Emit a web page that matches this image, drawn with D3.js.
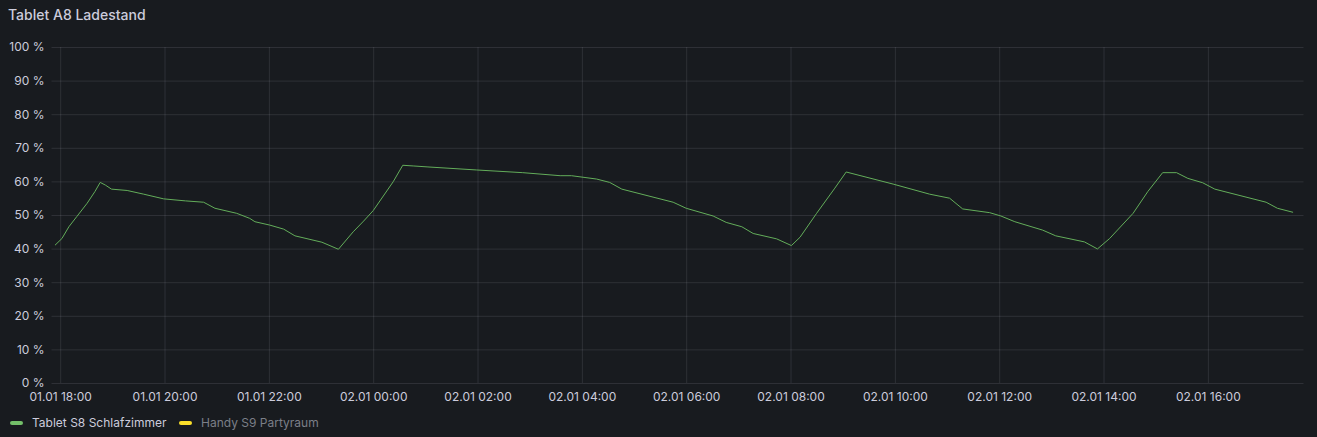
<!DOCTYPE html>
<html><head><meta charset="utf-8">
<script src="https://cdn.jsdelivr.net/npm/d3@7"></script>
<style>
html,body{margin:0;padding:0;background:#181b1f;}
svg{display:block;font-family:Inter,"Noto Sans",sans-serif;}
</style></head>
<body>
<svg id="c" width="1317" height="437"></svg>
<script>
const title = "Tablet A8 Ladestand";
const seriesNames = ["Tablet S8 Schlafzimmer", "Handy S9 Partyraum"];
const seriesColors = ["#73bf69", "#fade2a"];
const yTicks = [0,10,20,30,40,50,60,70,80,90,100];
const xTickTimes = ["2024-01-01T18:00","2024-01-01T20:00","2024-01-01T22:00","2024-01-02T00:00","2024-01-02T02:00","2024-01-02T04:00","2024-01-02T06:00","2024-01-02T08:00","2024-01-02T10:00","2024-01-02T12:00","2024-01-02T14:00","2024-01-02T16:00"];
const domainTimes = ["2024-01-01T17:50","2024-01-02T17:50"];
const times = ["2024-01-01T17:54","2024-01-01T18:02","2024-01-01T18:10","2024-01-01T18:19","2024-01-01T18:31","2024-01-01T18:40","2024-01-01T18:46","2024-01-01T18:52","2024-01-01T18:59","2024-01-01T19:17","2024-01-01T19:36","2024-01-01T19:59","2024-01-01T20:24","2024-01-01T20:45","2024-01-01T20:58","2024-01-01T21:23","2024-01-01T21:38","2024-01-01T21:44","2024-01-01T22:01","2024-01-01T22:17","2024-01-01T22:30","2024-01-01T23:01","2024-01-01T23:20","2024-01-01T23:37","2024-01-01T23:49","2024-01-02T00:00","2024-01-02T00:23","2024-01-02T00:34","2024-01-02T00:46","2024-01-02T01:03","2024-01-02T01:59","2024-01-02T02:52","2024-01-02T03:35","2024-01-02T03:48","2024-01-02T04:17","2024-01-02T04:32","2024-01-02T04:46","2024-01-02T05:45","2024-01-02T06:00","2024-01-02T06:31","2024-01-02T06:46","2024-01-02T07:04","2024-01-02T07:17","2024-01-02T07:44","2024-01-02T08:01","2024-01-02T08:11","2024-01-02T08:30","2024-01-02T08:51","2024-01-02T09:04","2024-01-02T09:58","2024-01-02T10:40","2024-01-02T11:03","2024-01-02T11:18","2024-01-02T11:49","2024-01-02T12:02","2024-01-02T12:18","2024-01-02T12:50","2024-01-02T13:05","2024-01-02T13:38","2024-01-02T13:53","2024-01-02T14:07","2024-01-02T14:34","2024-01-02T14:51","2024-01-02T15:08","2024-01-02T15:24","2024-01-02T15:37","2024-01-02T15:54","2024-01-02T16:08","2024-01-02T17:07","2024-01-02T17:20","2024-01-02T17:38"];
const values = [41,43,46.5,49.5,53.5,57,59.7,58.9,57.7,57.3,56.2,54.8,54.2,53.8,52,50.5,49,48,47,45.8,43.8,41.9,39.8,45,48.2,51.3,59.9,64.8,64.6,64.3,63.4,62.6,61.7,61.7,60.7,59.7,57.7,53.8,52,49.7,47.8,46.5,44.5,42.9,40.9,43.4,50.5,58,62.8,59.2,56.2,55,51.8,50.7,49.7,48,45.5,43.8,42,39.9,43,50.5,57,62.6,62.6,60.9,59.6,57.7,53.8,52,50.8];

const parse = d3.timeParse("%Y-%m-%dT%H:%M");
const data = times.map((t,i)=>({t:parse(t), v:values[i]}));

const svg = d3.select("#c");
const W = 1317, H = 437;
const m = {left:51.5, right:13.5, top:47, bottom:54};
const x = d3.scaleTime().domain(domainTimes.map(parse)).range([m.left, W - m.right]);
const y = d3.scaleLinear().domain([0,100]).range([H - m.bottom, m.top]);

svg.append("text").attr("x",8).attr("y",20).attr("fill","#ccccdc").attr("font-size",14).attr("font-weight",500).text(title);

const grid = "rgba(204,204,220,0.12)";
const yAxis = d3.axisLeft(y).tickValues(yTicks).tickFormat(d=>d+" %").tickSize(-(W-m.left-m.right)).tickPadding(7);
const gy = svg.append("g").attr("transform",`translate(${m.left},0)`).call(yAxis);
gy.select(".domain").remove();
gy.selectAll("line").attr("stroke",grid);
gy.selectAll("text").attr("fill","#ccccdc").attr("font-size",12).attr("font-family","Inter,sans-serif");

const xAxis = d3.axisBottom(x).tickValues(xTickTimes.map(parse)).tickFormat(d3.timeFormat("%d.%m %H:%M")).tickSize(-(H-m.top-m.bottom)).tickPadding(9);
const gx = svg.append("g").attr("transform",`translate(0,${H-m.bottom})`).call(xAxis);
gx.select(".domain").remove();
gx.selectAll("line").attr("stroke",grid);
gx.selectAll("text").attr("fill","#ccccdc").attr("font-size",12).attr("font-family","Inter,sans-serif");

const line = d3.line().x(d=>x(d.t)).y(d=>y(d.v));
svg.append("path").datum(data).attr("d",line).attr("fill","none").attr("stroke","#63ad5a").attr("stroke-width",1);

// legend
const lg = svg.append("g").attr("transform","translate(10,423)");
const items = [{name:seriesNames[0], color:seriesColors[0], text:"#ccccdc", x:0},{name:seriesNames[1], color:seriesColors[1], text:"#7b7f88", x:169}];
items.forEach(it=>{
  lg.append("rect").attr("x",it.x).attr("y",-2).attr("width",13).attr("height",4).attr("rx",2).attr("fill",it.color);
  lg.append("text").attr("x",it.x+22).attr("y",4).attr("fill",it.text).attr("font-size",12).text(it.name);
});
</script>
</body></html>
